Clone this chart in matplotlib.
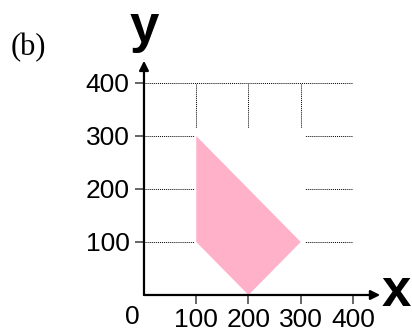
import matplotlib.pyplot as plt
from matplotlib.patches import Polygon, Rectangle

# feasible region vertices (x, y)
region_x = [100, 300, 200, 100]
region_y = [300, 100, 0, 100]

x_ticks = [100, 200, 300, 400]
y_ticks = [100, 200, 300, 400]

fig = plt.figure(figsize=(4.12, 3.34), dpi=100)
ax = fig.add_axes([0.3495, 0.1168, 0.5073, 0.6347])
ax.set_xlim(0, 400)
ax.set_ylim(0, 400)

for s in ax.spines.values():
    s.set_visible(False)

# dotted grid, kept underneath the mask
ax.set_axisbelow(True)
ax.grid(True, color="black", linestyle=(0, (1, 1)), linewidth=0.7)
ax.set_xticks(x_ticks)
ax.set_yticks(y_ticks)
ax.tick_params(axis="both", direction="out", length=6.5, width=1.3,
               color="0.35", labelsize=19, pad=3)
ax.tick_params(axis="y", pad=4)
for lab in ax.get_xticklabels() + ax.get_yticklabels():
    lab.set_fontfamily("Liberation Sans")

# white mask around the region so the grid stops short of it
pad = 8
xmin, xmax = min(region_x), max(region_x)
ymin, ymax = min(region_y), max(region_y)
ax.add_patch(Rectangle((xmin - 3, ymin), xmax - xmin + pad + 3, ymax - ymin + 15,
                       facecolor="white", edgecolor="none", zorder=1))
ax.add_patch(Polygon(list(zip(region_x, region_y)), closed=True,
                     facecolor="#FFB1CA", edgecolor="none", zorder=2))

# axes with arrows
arrow = dict(arrowstyle="-|>", mutation_scale=14, lw=1.6, color="black",
             shrinkA=0, shrinkB=0)
ax.annotate("", xy=(0, 442), xytext=(0, 0), arrowprops=arrow,
            annotation_clip=False, zorder=5)
ax.annotate("", xy=(452, 0), xytext=(0, 0), arrowprops=arrow,
            annotation_clip=False, zorder=5)

ax.text(-22, -42, "0", fontsize=19, family="Liberation Sans",
        ha="center", va="center", clip_on=False)

fig.text(144 / 412, 1 - 28 / 334, "y", fontsize=38, fontweight="bold",
         family="Liberation Sans", ha="center", va="center")
fig.text(396 / 412, 1 - 292 / 334, "x", fontsize=38, fontweight="bold",
         family="Liberation Sans", ha="center", va="center")
fig.text(28 / 412, 1 - 48 / 334, "(b)", fontsize=22,
         family="Liberation Serif", ha="center", va="center")

fig.savefig("out.png", dpi=100)
